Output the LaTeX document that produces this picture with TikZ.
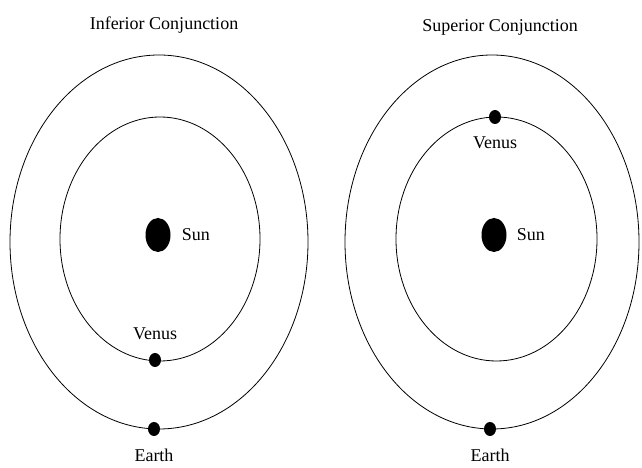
\documentclass[tikz,border=0pt]{standalone}
\usepackage{fontspec}
\setmainfont{Liberation Serif}
\usetikzlibrary{positioning,shapes.geometric}

\tikzset{
  orbit/.style={draw=black, line width=0.8pt},
  body/.style={ellipse, fill=black, inner sep=0pt},
  sunbody/.style={body, minimum width=25pt, minimum height=34pt},
  planet/.style={body, minimum width=12pt, minimum height=14pt},
  lbl/.style={inner sep=0pt, font=\fontsize{18}{21}\selectfont}
}

\begin{document}
\begin{tikzpicture}[x=1pt,y=1pt]
\useasboundingbox (0,0) rectangle (642,468);

% Left panel: inferior conjunction
\node[lbl] (titleL) at (164,443) {Inferior Conjunction};
\draw[orbit] (159,226) ellipse (149 and 187);
\draw[orbit] (160,229) ellipse (100 and 122);

\node[sunbody] (sunL) at (158,233) {};
\node[planet] (venusL) at (155,108) {};
\node[planet] (earthL) at (154,39) {};

\node[lbl, right=11pt of sunL] {Sun};
\node[lbl, above=13pt of venusL] {Venus};
\node[lbl, below=13pt of earthL] {Earth};

% Right panel: superior conjunction
\node[lbl] (titleR) at (500,441) {Superior Conjunction};
\draw[orbit] (492,226) ellipse (147 and 187);
\draw[orbit] (496.5,229) ellipse (100.5 and 122);

\node[sunbody] (sunR) at (494,233) {};
\node[planet] (venusR) at (495,351) {};
\node[planet] (earthR) at (490,39) {};

\node[lbl, right=10pt of sunR] {Sun};
\node[lbl, below=12pt of venusR] {Venus};
\node[lbl, below=13pt of earthR] {Earth};
\end{tikzpicture}
\end{document}
